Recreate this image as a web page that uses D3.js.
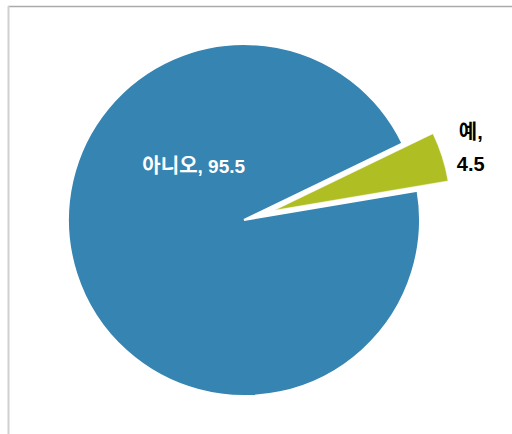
<!DOCTYPE html>
<html>
<head>
<meta charset="utf-8">
<script src="https://cdn.jsdelivr.net/npm/d3@7"></script>
<style>
  body { margin: 0; background: #fff; }
  svg { display: block; }
</style>
</head>
<body>
<div id="chart"></div>
<script>
// data
const labels = ["예", "아니오"]
const values = [4.5, 95.5]
const colors = ["#afbe22", "#3584b2"]

function drawPie(){
    let width = 512, height = 434
    let cx = 244, cy = 220, radius = 176
    let explode = [32, 0]
    let strokeW = [0.5, 2]
    let startDeg = 64.2

    let svg = d3.select('#chart').append('svg')
        .attr('width', width)
        .attr('height', height)

    // frame
    svg.append('line')
        .attr('x1', 8).attr('y1', 6.5).attr('x2', width).attr('y2', 6.5)
        .attr('stroke', '#aaaaaa').attr('stroke-width', 1.5)
    svg.append('line')
        .attr('x1', 8.5).attr('y1', 6).attr('x2', 8.5).attr('y2', height)
        .attr('stroke', '#d0d0d0').attr('stroke-width', 2)

    let g = svg.append('g')
        .attr('transform', `translate(${cx}, ${cy})`)

    let start = startDeg * Math.PI / 180
    let pie = d3.pie()
        .value(d=>d)
        .sort(null)
        .startAngle(start)
        .endAngle(start + 2 * Math.PI)
    let arc = d3.arc().innerRadius(0).outerRadius(radius)

    let pieData = pie(values)

    g.selectAll('path')
        .data(pieData)
        .enter()
        .append('path')
        .attr('d', arc)
        .attr('transform', (d, i)=>{
            let a = (d.startAngle + d.endAngle) / 2
            return `translate(${Math.sin(a) * explode[i]}, ${-Math.cos(a) * explode[i]})`
        })
        .attr('fill', (d, i)=>colors[i])
        .attr('stroke', '#fff')
        .attr('stroke-width', (d, i)=>strokeW[i])
        .attr('stroke-linejoin', 'miter')

    let font = '"Liberation Sans", Arial, "Noto Sans CJK KR", sans-serif'

    // 예 label, outside along its mid angle
    let dYes = pieData[0]
    let aYes = (dYes.startAngle + dYes.endAngle) / 2
    let rYes = 238
    let yesX = Math.sin(aYes) * rYes, yesY = -Math.cos(aYes) * rYes
    let t = g.append('text')
        .attr('text-anchor', 'middle')
        .attr('font-family', font)
        .attr('font-weight', 'bold')
        .attr('fill', '#000')
    t.append('tspan').attr('x', yesX).attr('y', yesY - 9)
        .attr('font-size', '20px').text(labels[0] + ',')
    t.append('tspan').attr('x', yesX).attr('y', yesY + 23)
        .attr('font-size', '20px').text(values[0])

    // 아니오 label, inside
    let aNo = 317.2 * Math.PI / 180, rNo = 74
    let tNo = g.append('text')
        .attr('x', Math.sin(aNo) * rNo)
        .attr('y', -Math.cos(aNo) * rNo + 7)
        .attr('text-anchor', 'middle')
        .attr('font-family', font)
        .attr('font-weight', 'bold')
        .attr('fill', '#fff')
    tNo.append('tspan').attr('font-size', '20px').text(labels[1])
    tNo.append('tspan').attr('font-size', '19px').text(', ' + values[1])
}

drawPie()
</script>
</body>
</html>
